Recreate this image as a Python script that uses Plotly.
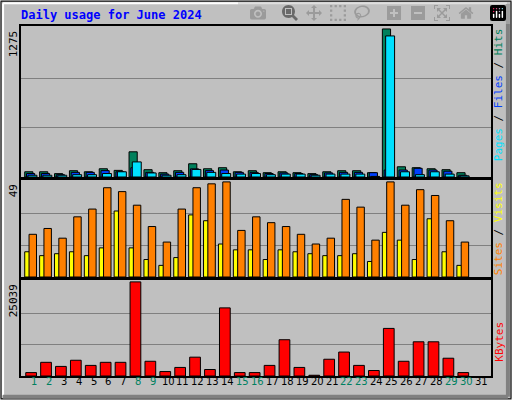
import plotly.graph_objects as go

days = list(range(1, 31))
hits = [45, 45, 29, 54, 45, 71, 57, 217, 63, 37, 54, 114, 71, 80, 45, 54, 37, 45, 37, 29,
        45, 54, 54, 37, 1275, 88, 80, 71, 63, 37]
files = [30, 30, 20, 40, 40, 55, 45, 80, 40, 25, 40, 70, 55, 60, 40, 40, 30, 35, 30, 20,
         35, 40, 40, 37, 60, 60, 75, 60, 50, 15]
pages = [15, 15, 15, 20, 20, 30, 45, 130, 35, 15, 20, 65, 40, 30, 25, 30, 20, 25, 25, 15,
         25, 25, 25, 5, 1215, 45, 20, 45, 25, 10]
visits = [13, 11, 12, 13, 11, 15, 34, 15, 9, 6, 10, 32, 29, 17, 14, 14, 9, 14, 13, 12,
          11, 11, 12, 8, 23, 19, 9, 30, 13, 6]
sites = [22, 25, 20, 31, 35, 46, 44, 37, 26, 18, 35, 46, 48, 49, 24, 31, 28, 26, 22, 17,
         20, 40, 36, 19, 49, 37, 45, 42, 29, 18]
kbytes = [910, 3640, 2550, 4190, 2820, 3640, 3640, 25039, 3920, 1180, 2280, 5010, 1730, 18120, 910,
          910, 2820, 9650, 2280, 200, 4460, 6370, 2820, 1460, 12660, 3920, 9100, 9100, 4730, 910]
tick_days = list(range(1, 32))
weekend = [1, 2, 8, 9, 15, 16, 22, 23, 29, 30]
max_hits, max_visits, max_kb = 1275, 49, 25039

BG = "#C0C0C0"
GREEN, BLUE, CYAN = "#00805C", "#0040FF", "#00E0FF"
YEL, ORA, RED = "#FFFF00", "#FF8000", "#FF0000"
MONO = "DejaVu Sans Mono"

fig = go.Figure()
line = dict(color="black", width=1)
fig.add_bar(x=days, y=hits, offset=-0.62, width=0.55, marker=dict(color=GREEN, line=line), xaxis="x", yaxis="y")
fig.add_bar(x=days, y=files, offset=-0.5, width=0.55, marker=dict(color=BLUE, line=line), xaxis="x", yaxis="y")
fig.add_bar(x=days, y=pages, offset=-0.4, width=0.6, marker=dict(color=CYAN, line=line), xaxis="x", yaxis="y")
fig.add_bar(x=days, y=visits, offset=-0.62, width=0.32, marker=dict(color=YEL, line=line), xaxis="x2", yaxis="y2")
fig.add_bar(x=days, y=sites, offset=-0.33, width=0.5, marker=dict(color=ORA, line=line), xaxis="x2", yaxis="y2")
fig.add_bar(x=days, y=kbytes, offset=-0.55, width=0.72, marker=dict(color=RED, line=line), xaxis="x3", yaxis="y3")

xr = [0.13, 31.67]
xax = dict(range=xr, domain=[0.041, 0.959], showticklabels=False, showgrid=False, zeroline=False,
           showline=True, linecolor="black", linewidth=2, mirror=True, fixedrange=True)
def yax(m, dom):
    return dict(range=[0, m * 1.02], domain=dom, tickvals=[m / 3, 2 * m / 3], showticklabels=False,
                showgrid=True, gridcolor="#808080", gridwidth=1, zeroline=False,
                showline=True, linecolor="black", linewidth=2, mirror=True)

fig.update_layout(
    width=512, height=400, margin=dict(l=0, r=0, t=0, b=0),
    paper_bgcolor=BG, plot_bgcolor=BG, showlegend=False, barmode="overlay",
    xaxis=dict(xax, anchor="y"), xaxis2=dict(xax, anchor="y2"), xaxis3=dict(xax, anchor="y3"),
    yaxis=dict(yax(max_hits, [0.5575, 0.935]), anchor="x"),
    yaxis2=dict(yax(max_visits, [0.3075, 0.55]), anchor="x2"),
    yaxis3=dict(yax(max_kb, [0.06, 0.30]), anchor="x3"),
)

# bevelled frame
fig.add_shape(type="rect", xref="paper", yref="paper", x0=0.002, y0=0.003, x1=0.998, y1=0.997,
              line=dict(color="black", width=1))
fig.add_shape(type="line", xref="paper", yref="paper", x0=0.006, y0=0.992, x1=0.99, y1=0.992,
              line=dict(color="white", width=2))
fig.add_shape(type="line", xref="paper", yref="paper", x0=0.006, y0=0.012, x1=0.006, y1=0.992,
              line=dict(color="white", width=2))
fig.add_shape(type="line", xref="paper", yref="paper", x0=0.992, y0=0.008, x1=0.992, y1=0.99,
              line=dict(color="#808080", width=4))
fig.add_shape(type="line", xref="paper", yref="paper", x0=0.006, y0=0.008, x1=0.992, y1=0.008,
              line=dict(color="#808080", width=4))

fig.add_annotation(text="<b>Daily usage for June 2024</b>", xref="paper", yref="paper", x=0.037, y=0.985,
                   xanchor="left", yanchor="top", showarrow=False, font=dict(family=MONO, size=12, color="#0000FF"))

for txt, ytop in [(str(max_hits), 0.93), (str(max_visits), 0.545), (str(max_kb), 0.295)]:
    fig.add_annotation(text=txt, textangle=-90, xref="paper", yref="paper", x=0.027, y=ytop,
                       xanchor="center", yanchor="top", showarrow=False, font=dict(family=MONO, size=11, color="black"))

def sp(t, c):
    return f"<span style='color:{c}'>{t}</span>"
right = [
    (sp("Pages", CYAN) + " / " + sp("Files", BLUE) + " / " + sp("Hits", GREEN), 0.935),
    (sp("Sites", ORA) + " / " + sp("Visits", YEL), 0.55),
    (sp("KBytes", RED), 0.145),
]
for txt, ytop in right:
    fig.add_annotation(text=txt, textangle=-90, xref="paper", yref="paper", x=0.974, y=ytop,
                       xanchor="center", yanchor="top" if ytop > 0.3 else "middle", showarrow=False,
                       font=dict(family=MONO, size=11, color="black"))

for d in tick_days:
    fig.add_annotation(text=str(d), x=d, xref="x3", yref="paper", y=0.028, showarrow=False,
                       font=dict(family="DejaVu Sans", size=10, color="#008060" if d in weekend else "black"))

fig.write_html("out.html", post_script="document.body.style.margin='0';")
